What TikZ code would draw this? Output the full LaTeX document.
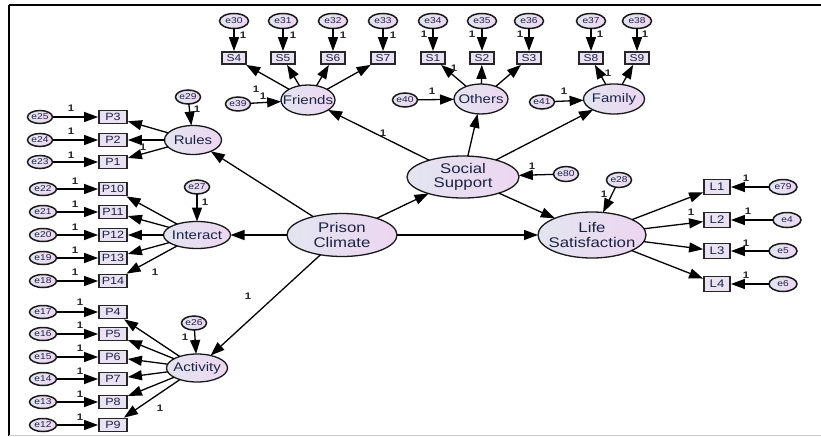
\documentclass[tikz,border=0pt]{standalone}
\usepackage{fontspec}
\newfontfamily\diafont[FakeStretch=1.2]{Liberation Sans}
\usetikzlibrary{shapes.geometric,arrows.meta}
\definecolor{ink}{RGB}{30,34,66}
\definecolor{fillL}{RGB}{226,229,240}
\definecolor{fillR}{RGB}{237,214,241}
\definecolor{boxfill}{RGB}{232,226,243}
\tikzset{
  lat/.style={ellipse, draw=black!90, line width=1.3pt, left color=fillL, right color=fillR, inner sep=0pt, outer sep=0pt},
  bigtxt/.style={font=\diafont\fontsize{14}{14.5}\selectfont, align=center, text=ink, inner sep=0pt},
  midtxt/.style={font=\diafont\fontsize{12.5}{13}\selectfont, text=ink, inner sep=0pt},
  smalltxt/.style={font=\diafont\fontsize{8.5}{9}\selectfont, text=ink, inner sep=0pt},
  big/.style={lat, label={[bigtxt]center:#1}},
  mid/.style={lat, minimum height=29pt, label={[midtxt]center:#1}},
  err/.style={lat, line width=1.5pt, minimum width=27pt, minimum height=14pt, label={[smalltxt]center:#1}},
  obs/.style={rectangle, draw=black!85, line width=1.8pt, fill=boxfill, inner sep=0pt,
              minimum width=28pt, minimum height=13pt, text=ink, font=\diafont\fontsize{10.5}{11}\selectfont},
  sobs/.style={obs, minimum width=24pt, minimum height=12pt, font=\diafont\fontsize{10}{10}\selectfont},
  arr/.style={-{Triangle[length=14pt,width=10pt]}, line width=1.3pt, black},
  one/.style={font=\diafont\bfseries\fontsize{9.5}{10}\selectfont, text=black!85, inner sep=0pt},
}
\newcounter{wtc}
\newcommand\wt[2]{\stepcounter{wtc}\node[one] (w\thewtc) at (#1,#2) {1};}
\begin{document}
\begin{tikzpicture}[x=1pt,y=-1pt]
\useasboundingbox[fill=white] (0,0) rectangle (821,436);
% frame
\draw[line width=2.4pt] (9,5) -- (821,5);
\draw[line width=1.6pt] (9,5) -- (9,436);
\draw[black!20, line width=0.8pt] (9,435) -- (821,435);

% structural latents
\node[big={Prison\\Climate}, minimum width=110pt, minimum height=43pt] (pc) at (342,235) {};
\node[big={Social\\Support}, minimum width=112pt, minimum height=42pt] (ss) at (463,177) {};
\node[big={Life\\Satisfaction}, minimum width=108pt, minimum height=46pt] (ls) at (592,235) {};

% first-order latents
\node[mid=Rules, minimum width=57pt] (ru) at (193,140) {};
\node[mid=Interact, minimum width=67pt, minimum height=27pt] (in) at (197,235) {};
\node[mid=Activity, minimum width=61pt, minimum height=28pt] (ac) at (197,368) {};
\node[mid=Friends, minimum width=54pt, minimum height=30pt] (fr) at (308,100) {};
\node[mid=Others, minimum width=54pt, minimum height=30pt] (ot) at (481,99) {};
\node[mid=Family, minimum width=61pt, minimum height=30pt] (fa) at (614,99) {};

% social support indicators
\foreach \n/\x/\e in {S4/234/e30, S5/283/e31, S6/333/e32, S7/383/e33,
                      S1/433/e34, S2/482/e35, S3/529/e36, S8/591/e37, S9/637/e38}{
  \node[sobs] (\n) at (\x,58) {\n};
  \node[err=\e, minimum width=29pt, minimum height=15pt] (\e) at (\x,21) {};
  \draw[arr] (\e) -- (\n);
}
\foreach \n in {S4,S5,S6,S7} \draw[arr] (fr) -- (\n);
\foreach \n in {S1,S2,S3} \draw[arr] (ot) -- (\n);
\foreach \n in {S8,S9} \draw[arr] (fa) -- (\n);
\node[err=e39, minimum width=25pt] (e39) at (238,104) {};
\node[err=e40, minimum width=25pt] (e40) at (405,100) {};
\node[err=e41, minimum width=25pt] (e41) at (542,102) {};
\draw[arr] (e39) -- (fr);
\draw[arr] (e40) -- (ot);
\draw[arr] (e41) -- (fa);

% rules indicators
\foreach \n/\y/\e in {P3/117/e25, P2/140/e24, P1/162/e23}{
  \node[obs] (\n) at (113,\y) {\n};
  \node[err=\e, minimum width=25pt, minimum height=13pt] (\e) at (40,\y) {};
  \draw[arr] (\e) -- (\n);
  \draw[arr] (ru) -- (\n);
}
\node[err=e29, minimum width=25pt] (e29) at (188,97) {};
\draw[arr] (e29) -- (ru);

% interaction indicators
\foreach \n/\y/\e in {P10/189/e22, P11/212/e21, P12/235/e20, P13/258/e19, P14/281/e18}{
  \node[obs] (\n) at (113,\y) {\n};
  \node[err=\e, minimum width=27pt, minimum height=13pt] (\e) at (43,\y) {};
  \draw[arr] (\e) -- (\n);
  \draw[arr] (in) -- (\n);
}
\node[err=e27, minimum width=25pt] (e27) at (197,187) {};
\draw[arr] (e27) -- (in);

% activity indicators
\foreach \n/\y/\e in {P4/312/e17, P5/334/e16, P6/357/e15, P7/379/e14, P8/402/e13, P9/425/e12}{
  \node[obs] (\n) at (113,\y) {\n};
  \node[err=\e, minimum width=27pt, minimum height=13pt] (\e) at (43,\y) {};
  \draw[arr] (\e) -- (\n);
  \draw[arr] (ac) -- (\n);
}
\node[err=e26, minimum width=25pt] (e26) at (194,323) {};
\draw[arr] (e26) -- (ac);

% life satisfaction indicators
\foreach \n/\y/\e/\x in {L1/187/e79/783, L2/220/e4/787, L3/251/e5/783, L4/284/e6/783}{
  \node[obs, minimum width=26pt, minimum height=15pt, font=\diafont\fontsize{11}{11}\selectfont] (\n) at (717,\y) {\n};
  \node[err=\e, minimum width=28pt, minimum height=15pt] (\e) at (\x,\y) {};
  \draw[arr] (\e) -- (\n);
  \draw[arr] (ls) -- (\n);
}
\node[err=e28, minimum width=25pt, minimum height=15pt] (e28) at (619,180) {};
\draw[arr] (e28) -- (ls);
\node[err=e80, minimum width=25pt, minimum height=15pt] (e80) at (566,174) {};
\draw[arr] (e80) -- (ss);

% structural paths
\draw[arr] (pc) -- (ru);
\draw[arr] (pc) -- (in);
\draw[arr] (pc) -- (ac);
\draw[arr] (pc) -- (ss);
\draw[arr] (pc) -- (ls);
\draw[arr] (ss) -- (fr);
\draw[arr] (ss) -- (ot);
\draw[arr] (ss) -- (fa);
\draw[arr] (ss) -- (ls);

% fixed weights
\wt{243}{35}\wt{293}{35}\wt{343}{35}\wt{393}{35}
\wt{424}{34}\wt{472}{34}\wt{520}{34}\wt{600}{34}\wt{645}{34}
\wt{454}{68}\wt{608}{73}
\wt{256}{89}\wt{263}{96}\wt{432}{91}\wt{564}{91}
\wt{383}{133}\wt{532}{166}\wt{604}{194}\wt{691}{212}
\wt{746}{178}\wt{748}{211}\wt{746}{243}\wt{746}{275}
\wt{197}{109}\wt{71}{108}\wt{71}{131}\wt{71}{155}\wt{143}{147}
\wt{205}{202}\wt{75}{181}\wt{75}{204}\wt{75}{227}\wt{75}{250}\wt{75}{272}\wt{155}{272}
\wt{185}{337}\wt{80}{302}\wt{80}{325}\wt{80}{348}\wt{80}{371}\wt{80}{394}\wt{80}{417}
\wt{160}{408}\wt{248}{296}
\end{tikzpicture}
\end{document}
